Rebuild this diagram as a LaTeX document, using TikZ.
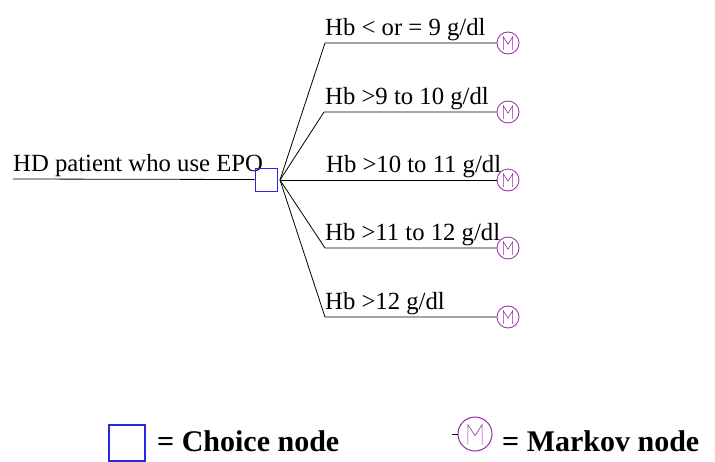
\documentclass[tikz,border=0pt]{standalone}
\usepackage{fontspec}
\setmainfont{Liberation Serif}
\definecolor{choiceblue}{RGB}{40,40,225}
\definecolor{markovpurple}{RGB}{150,40,165}

\begin{document}
\begin{tikzpicture}[x=1pt, y=-1pt,
      choice/.style={draw=choiceblue, line width=0.8pt, inner sep=0pt,
                     minimum width=22pt, minimum height=23pt},
      markov/.style={circle, draw=markovpurple, line width=0.8pt, inner sep=0pt,
                     minimum size=2*#1pt,
                     path picture={\draw[markovpurple, line width=0.6pt,
                       shift={(path picture bounding box.center)}, x=#1pt, y=#1pt]
                       (-0.42,-0.62) -- (-0.42,0.55) -- (0,-0.1) -- (0.42,0.55) -- (0.42,-0.62);}},
      markov/.default=11,
      lbl/.style={anchor=base west, inner sep=0pt, font=\fontsize{24.7}{28}\selectfont},
      leg/.style={anchor=base west, inner sep=0pt, font=\fontsize{30}{34}\selectfont\bfseries},
      branch/.style={black, line width=0.8pt}
    ]
      \useasboundingbox (0,0) rectangle (715,461);

      % Root and choice node
      \node[lbl] (hd) at (13,171) {HD patient who use EPO};
      \coordinate (hdstart) at (13,179);
      \node[choice] (choice) at (266,179.5) {};
      \coordinate (fan) at (280,180);
      \draw[branch] (hdstart) -- (choice.west);

      % Markov nodes
      \node[markov] (m1) at (508,43) {};
      \node[markov] (m2) at (508,112) {};
      \node[markov] (m3) at (508,180) {};
      \node[markov] (m4) at (508,248) {};
      \node[markov] (m5) at (508,317) {};

      % Branch bends
      \coordinate (b1) at (325,43);
      \coordinate (b2) at (324,112);
      \coordinate (b4) at (325,248);
      \coordinate (b5) at (325,317);

      \draw[branch] (fan) -- (b1) -- (m1.west);
      \draw[branch] (fan) -- (b2) -- (m2.west);
      \draw[branch] (fan) -- (m3.west);
      \draw[branch] (fan) -- (b4) -- (m4.west);
      \draw[branch] (fan) -- (b5) -- (m5.west);

      % Branch labels
      \node[lbl] (l1) at (325,35) {Hb < or = 9 g/dl};
      \node[lbl] (l2) at (325,104) {Hb >9 to 10 g/dl};
      \node[lbl] (l3) at (326,172) {Hb >10 to 11 g/dl};
      \node[lbl] (l4) at (325,240) {Hb >11 to 12 g/dl};
      \node[lbl] (l5) at (325,309) {Hb >12 g/dl};

      % Legend
      \node[choice, line width=1.2pt, minimum width=36pt, minimum height=36pt] (legchoice) at (127,443) {};
      \node[leg] (legchoicetxt) at (157,451) {= Choice node};
      \node[markov=17, line width=1pt] (legmarkov) at (475,434) {};
      \coordinate (legtick) at (452,434);
      \draw[black, line width=0.6pt] (legtick) -- (legmarkov.west);
      \node[leg] (legmarkovtxt) at (502,451) {= Markov node};
    \end{tikzpicture}
\end{document}
